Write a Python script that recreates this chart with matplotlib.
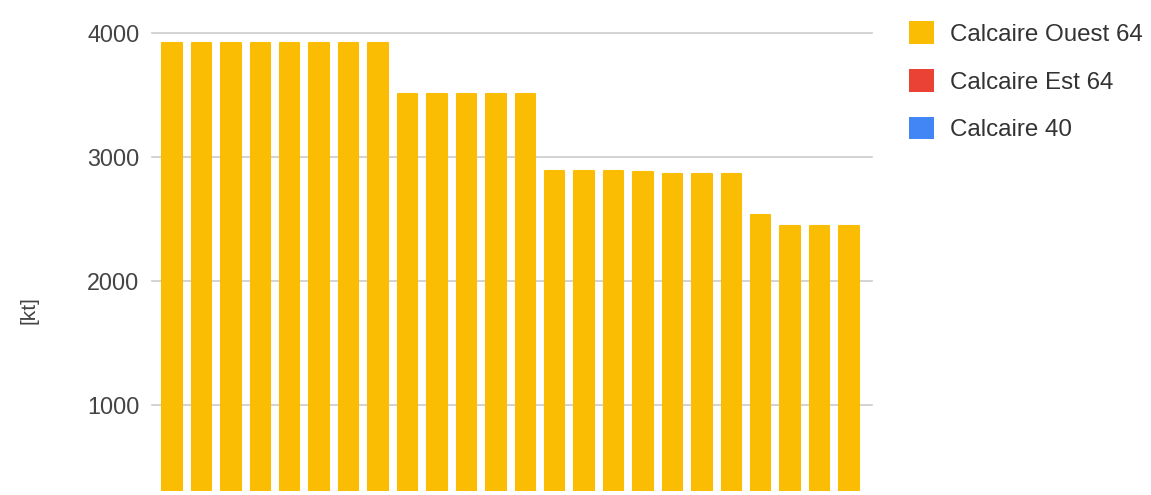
import matplotlib.pyplot as plt
import numpy as np
from matplotlib.patches import Patch

plt.rcParams['font.family'] = ['Liberation Sans', 'DejaVu Sans']

# one bar per site, tonnage in kt
ouest_64 = [3920, 3920, 3920, 3920, 3920, 3920, 3920, 3920,
            3505, 3505, 3505, 3505, 3505,
            2890, 2890, 2890, 2875, 2860, 2860, 2860,
            2535, 2440, 2440, 2440]
est_64 = [0] * len(ouest_64)
calcaire_40 = [0] * len(ouest_64)

series = ["Calcaire Ouest 64", "Calcaire Est 64", "Calcaire 40"]
colors = ["#FBBC04", "#EA4335", "#4285F4"]

W, H = 1151, 495
fig = plt.figure(figsize=(W / 100, H / 100), dpi=100)
ax = fig.add_axes([152 / W, (H - 491) / H, 720 / W, 458 / H])

x = np.arange(len(ouest_64))
bottom = np.zeros(len(x))
for vals, c in zip([ouest_64, est_64, calcaire_40], colors):
    # thin edge with round joins gives the soft corners; none on empty bars
    lw = [1.5 if v else 0 for v in vals]
    ax.bar(x, vals, width=0.66, bottom=bottom, color=c, edgecolor=c,
           linewidth=lw, joinstyle='round', zorder=2)
    bottom += np.array(vals)

ax.set_xlim(-0.68, 23.78)
ax.set_ylim(306, 4000)
ax.set_yticks([1000, 2000, 3000, 4000])
ax.set_xticks([])
ax.grid(axis='y', color='#cccccc', linewidth=1.2, zorder=0)
for g in ax.get_ygridlines():
    g.set_clip_on(False)
for s in ax.spines.values():
    s.set_visible(False)
ax.tick_params(axis='y', length=0, pad=9, labelsize=16.8, labelcolor='#444444')

ax.set_ylabel("[kt]", fontsize=15, color='#444444')
ax.yaxis.set_label_coords(-0.158, 0.395)

handles = [Patch(facecolor=c, edgecolor='none') for c in colors]
fig.legend(handles, series, loc='upper left', bbox_to_anchor=(894 / W, 1 - 7 / H),
           frameon=False, fontsize=17.4, handlelength=1.05, handleheight=1.05,
           handletextpad=0.66, labelspacing=0.96, borderaxespad=0.2,
           labelcolor='#333333')

fig.savefig("out.png", dpi=100)
